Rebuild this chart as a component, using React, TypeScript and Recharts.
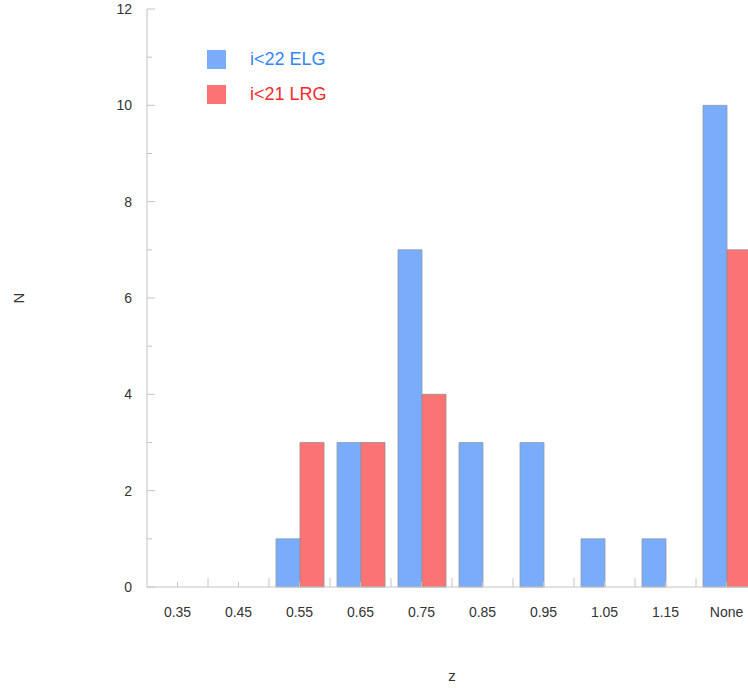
import { BarChart, Bar, XAxis, YAxis, Label } from "recharts";

const zBins = ["0.35", "0.45", "0.55", "0.65", "0.75", "0.85", "0.95", "1.05", "1.15", "None"];
const elgCounts = [0, 0, 1, 3, 7, 3, 3, 1, 1, 10];
const lrgCounts = [0, 0, 3, 3, 4, 0, 0, 0, 0, 7];
const yTicks = [0, 1, 2, 3, 4, 5, 6, 7, 8, 9, 10, 11, 12];

const seriesNames = { elg: "i<22 ELG", lrg: "i<21 LRG" };

const data = zBins.map((z, i) => ({ z, elg: elgCounts[i], lrg: lrgCounts[i] }));

const FONT = "'Liberation Sans', Arial, Helvetica, sans-serif";
const AXIS = "#c4c4c4";
const TEXT = "#333";
const BLUE = "#79adfb";
const RED = "#fc7373";

function BottomTick({ x, y, payload }: any) {
  const half = payload?.offset ?? 0;
  return (
    <g>
      <line x1={x} x2={x} y1={y} y2={y - 5} stroke={AXIS} />
      <line x1={x + half} x2={x + half} y1={y} y2={y - 9} stroke={AXIS} />
      <text x={x} y={y + 30} textAnchor="middle" fill={TEXT} fontSize={14} fontFamily={FONT}>
        {payload.value}
      </text>
    </g>
  );
}

function TopTick({ x, y, payload }: any) {
  const half = payload?.offset ?? 0;
  return (
    <g>
      <line x1={x} x2={x} y1={y} y2={y + 5} stroke={AXIS} />
      <line x1={x + half} x2={x + half} y1={y} y2={y + 8} stroke={AXIS} />
    </g>
  );
}

function LeftTick({ x, y, payload }: any) {
  const major = payload.value % 2 === 0;
  return (
    <g>
      <line x1={x} x2={x + (major ? 8 : 5)} y1={y} y2={y} stroke={AXIS} />
      {major && (
        <text x={x - 15} y={y + 5} textAnchor="end" fill={TEXT} fontSize={14} fontFamily={FONT}>
          {payload.value}
        </text>
      )}
    </g>
  );
}

function LegendBox() {
  const rows = [
    { name: seriesNames.elg, fill: BLUE, color: "#3585f6" },
    { name: seriesNames.lrg, fill: RED, color: "#f42a2c" },
  ];
  return (
    <div style={{ position: "absolute", left: 207, top: 50, fontFamily: FONT }}>
      {rows.map((r) => (
        <div key={r.name} style={{ display: "flex", alignItems: "center", height: 19, marginBottom: 16 }}>
          <span style={{ width: 19, height: 19, background: r.fill, display: "inline-block" }} />
          <span style={{ marginLeft: 24, fontSize: 18, color: r.color, lineHeight: "19px" }}>{r.name}</span>
        </div>
      ))}
    </div>
  );
}

export default function App() {
  return (
    <div style={{ position: "absolute", left: 0, top: 0, width: 748, height: 688, overflow: "hidden", background: "#fff" }}>
      <BarChart
        width={800}
        height={688}
        data={data}
        margin={{ top: 9, right: 43, bottom: 0, left: 0 }}
        barGap={0}
        barSize={24}
      >
        <XAxis
          dataKey="z"
          height={101}
          stroke={AXIS}
          tickLine={false}
          tickSize={0}
          tickMargin={0}
          interval={0}
          tick={<BottomTick />}
        >
          <Label
            content={({ viewBox }: any) => (
              <text
                x={viewBox.x + viewBox.width / 2}
                y={viewBox.y + viewBox.height - 7}
                textAnchor="middle"
                fill={TEXT}
                fontSize={15}
                fontFamily={FONT}
              >
                z
              </text>
            )}
          />
        </XAxis>
        <XAxis
          xAxisId="top"
          dataKey="z"
          orientation="top"
          height={0}
          stroke={AXIS}
          tickLine={false}
          tickSize={0}
          tickMargin={0}
          interval={0}
          tick={<TopTick />}
        />
        <YAxis
          width={147}
          domain={[0, 12]}
          ticks={yTicks}
          interval={0}
          stroke={AXIS}
          tickLine={false}
          tickSize={0}
          tickMargin={0}
          tick={<LeftTick />}
        >
          <Label
            content={({ viewBox }: any) => {
              const cx = 18;
              const cy = viewBox.y + viewBox.height / 2;
              return (
                <text
                  x={cx}
                  y={cy}
                  transform={`rotate(-90 ${cx} ${cy})`}
                  textAnchor="middle"
                  dominantBaseline="central"
                  fill={TEXT}
                  fontSize={15}
                  fontFamily={FONT}
                >
                  N
                </text>
              );
            }}
          />
        </YAxis>
        <Bar dataKey="elg" name={seriesNames.elg} fill={BLUE} stroke="#8f9aa8" strokeWidth={0.8} isAnimationActive={false} />
        <Bar dataKey="lrg" name={seriesNames.lrg} fill={RED} stroke="#9a8a8a" strokeWidth={0.8} isAnimationActive={false} />
      </BarChart>
      <LegendBox />
    </div>
  );
}
